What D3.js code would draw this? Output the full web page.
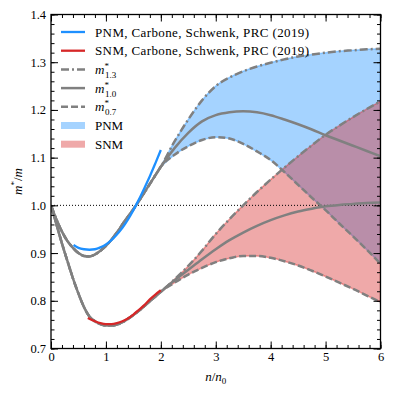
<!DOCTYPE html>
<html>
<head>
<meta charset="utf-8">
<script src="https://cdn.jsdelivr.net/npm/d3@7"></script>
<style>
  body { margin: 0; background: #fff; }
  text { font-family: "Liberation Serif", serif; }
</style>
</head>
<body>
<div id="chart"></div>
<script>
/* ── data ───────────────────────────────────────────────────── */
// low density part, the three m* curves coincide
const nLow   = [0, 0.1, 0.2, 0.3, 0.4, 0.5, 0.6, 0.7, 0.8, 0.9, 1.0,
                1.1, 1.2, 1.3, 1.4, 1.5, 1.6, 1.7, 1.8, 1.9, 2.0];
const pnmLow = [1.0, 0.970, 0.945, 0.925, 0.911, 0.900, 0.894, 0.893, 0.897, 0.905, 0.915,
                0.928, 0.943, 0.960, 0.976, 0.992, 1.009, 1.027, 1.045, 1.063, 1.081];
const snmLow = [1.0, 0.960, 0.920, 0.883, 0.847, 0.815, 0.787, 0.767, 0.757, 0.751, 0.748,
                0.748, 0.750, 0.755, 0.762, 0.770, 0.779, 0.789, 0.799, 0.809, 0.819];

// high density part
const nHigh    = [2.0, 2.25, 2.5, 2.75, 3.0, 3.25, 3.5, 3.75, 4.0,
                  4.25, 4.5, 4.75, 5.0, 5.25, 5.5, 5.75, 6.0];
const pnm13    = [1.081, 1.134, 1.180, 1.220, 1.250, 1.268, 1.281, 1.291, 1.299,
                  1.306, 1.312, 1.316, 1.320, 1.323, 1.325, 1.327, 1.328];
const pnm10    = [1.081, 1.120, 1.152, 1.176, 1.189, 1.195, 1.197, 1.195, 1.189,
                  1.180, 1.170, 1.159, 1.147, 1.136, 1.125, 1.114, 1.103];
const pnm07    = [1.081, 1.106, 1.124, 1.137, 1.143, 1.140, 1.129, 1.113, 1.095,
                  1.070, 1.043, 1.016, 0.990, 0.962, 0.935, 0.907, 0.878];
const snm13    = [0.819, 0.845, 0.873, 0.905, 0.940, 0.971, 1.000, 1.028, 1.054,
                  1.079, 1.103, 1.126, 1.148, 1.167, 1.185, 1.202, 1.218];
const snm10    = [0.819, 0.843, 0.865, 0.887, 0.908, 0.927, 0.943, 0.957, 0.969,
                  0.979, 0.987, 0.993, 0.998, 1.001, 1.003, 1.005, 1.006];
const snm07    = [0.819, 0.838, 0.855, 0.869, 0.881, 0.889, 0.894, 0.894, 0.890,
                  0.883, 0.874, 0.863, 0.851, 0.838, 0.825, 0.811, 0.797];

// Carbone & Schwenk results
const nPnmCS = [0.41, 0.5, 0.6, 0.7, 0.8, 0.9, 1.0, 1.1, 1.2, 1.3, 1.4, 1.5, 1.6, 1.7, 1.8, 1.9, 2.0];
const pnmCS  = [0.917, 0.911, 0.908, 0.907, 0.908, 0.912, 0.918, 0.927, 0.939, 0.953,
                0.970, 0.990, 1.012, 1.036, 1.061, 1.088, 1.116];
const nSnmCS = [0.67, 0.8, 0.9, 1.0, 1.1, 1.2, 1.3, 1.4, 1.5, 1.6, 1.7, 1.8, 1.9, 2.0];
const snmCS  = [0.764, 0.757, 0.753, 0.751, 0.751, 0.753, 0.757, 0.763, 0.771,
                0.781, 0.791, 0.803, 0.813, 0.822];

const xTicks = [0, 1, 2, 3, 4, 5, 6];
const yTicks = [0.7, 0.8, 0.9, 1.0, 1.1, 1.2, 1.3, 1.4];

/* ── layout ─────────────────────────────────────────────────── */
const W = 394, H = 394;
const ML = 51, MR = 13.5, MT = 14.5, MB = 45.5;
const FONT = '"Liberation Serif", serif';

const BLUE = '#1e90ff', RED = '#d62728', GREY = '#808080';

const svg = d3.select('#chart').append('svg')
  .attr('width', W).attr('height', H);

const x = d3.scaleLinear().domain([0, 6]).range([ML, W - MR]);
const y = d3.scaleLinear().domain([0.7, 1.4]).range([H - MB, MT]);

svg.append('clipPath').attr('id', 'plot-clip')
  .append('rect')
  .attr('x', ML).attr('y', MT)
  .attr('width', W - ML - MR).attr('height', H - MT - MB);

const plot = svg.append('g').attr('clip-path', 'url(#plot-clip)');

const zip = (xs, ys) => xs.map((v, i) => [v, ys[i]]);
const line = d3.line().x(d => x(d[0])).y(d => y(d[1])).curve(d3.curveMonotoneX);

// ── bands ───────────────────────────────────────────────────
function band(lo, hi, color) {
  const area = d3.area()
    .x((_, i) => x(nHigh[i]))
    .y0((_, i) => y(lo[i]))
    .y1((_, i) => y(hi[i]))
    .curve(d3.curveMonotoneX);
  plot.append('path')
    .attr('d', area(nHigh))
    .attr('fill', color).attr('fill-opacity', 0.4)
    .attr('stroke', color).attr('stroke-opacity', 0.4).attr('stroke-width', 1.5);
}
band(pnm07, pnm13, BLUE);
band(snm07, snm13, RED);

// reference line at 1
plot.append('line')
  .attr('x1', x(0)).attr('x2', x(6))
  .attr('y1', y(1)).attr('y2', y(1))
  .attr('stroke', '#000').attr('stroke-width', 1)
  .attr('stroke-dasharray', '1,2');

// ── m* curves ───────────────────────────────────────────────
const STYLES = {
  m13: '8,3,2,3',
  m10: null,
  m07: '7,3',
};
const curves = [
  [pnmLow, pnm13, 'm13'], [pnmLow, pnm10, 'm10'], [pnmLow, pnm07, 'm07'],
  [snmLow, snm13, 'm13'], [snmLow, snm10, 'm10'], [snmLow, snm07, 'm07'],
];
for (const [low, high, key] of curves) {
  const pts = zip(nLow, low).concat(zip(nHigh, high).slice(1));
  plot.append('path')
    .attr('d', line(pts))
    .attr('fill', 'none')
    .attr('stroke', GREY).attr('stroke-width', 2.5)
    .attr('stroke-dasharray', STYLES[key]);
}

plot.append('path').attr('d', line(zip(nPnmCS, pnmCS)))
  .attr('fill', 'none').attr('stroke', BLUE).attr('stroke-width', 2.3);
plot.append('path').attr('d', line(zip(nSnmCS, snmCS)))
  .attr('fill', 'none').attr('stroke', RED).attr('stroke-width', 2.3);

// ── axes ────────────────────────────────────────────────────
const xMinor = d3.range(0, 6.001, 0.2).map(v => +v.toFixed(1));
const yMinor = d3.range(0.7, 1.4001, 0.02).map(v => +v.toFixed(2));

function styleAxis(g) {
  g.attr('font-family', FONT);
  g.select('.domain').remove();
  g.selectAll('.tick line').attr('stroke', '#000').attr('stroke-width', 1);
  g.selectAll('.tick text').attr('fill', '#000').attr('font-size', 12.5)
    .attr('font-family', FONT);
}

const axes = [
  [() => d3.axisBottom(x), `translate(0,${H - MB})`, xTicks, xMinor, d3.format('d')],
  [() => d3.axisTop(x),    `translate(0,${MT})`,     xTicks, xMinor, null],
  [() => d3.axisLeft(y),   `translate(${ML},0)`,     yTicks, yMinor, d3.format('.1f')],
  [() => d3.axisRight(y),  `translate(${W - MR},0)`, yTicks, yMinor, null],
];
for (const [mk, tr, major, minor, fmt] of axes) {
  svg.append('g').attr('transform', tr)
    .call(mk().tickValues(minor).tickSize(-3.5).tickFormat(''))
    .call(styleAxis);
  svg.append('g').attr('transform', tr)
    .call(mk().tickValues(major).tickSize(-7).tickPadding(major === yTicks ? 5 : 4)
      .tickFormat(fmt || (() => '')))
    .call(styleAxis);
}

svg.append('rect')
  .attr('x', ML).attr('y', MT)
  .attr('width', W - ML - MR).attr('height', H - MT - MB)
  .attr('fill', 'none').attr('stroke', '#000').attr('stroke-width', 1.3);

// axis titles
const xt = svg.append('text')
  .attr('x', (ML + W - MR) / 2).attr('y', 381)
  .attr('text-anchor', 'middle').attr('font-size', 13);
xt.append('tspan').attr('font-style', 'italic').text('n');
xt.append('tspan').text('/');
xt.append('tspan').attr('font-style', 'italic').text('n');
xt.append('tspan').attr('font-size', 9).attr('dy', 3).text('0');

const yt = svg.append('text')
  .attr('transform', `translate(22,${(MT + H - MB) / 2}) rotate(-90)`)
  .attr('text-anchor', 'middle').attr('font-size', 13);
yt.append('tspan').attr('font-style', 'italic').text('m');
yt.append('tspan').attr('font-size', 9).attr('dy', -5).text('*');
yt.append('tspan').attr('dy', 5).text('/');
yt.append('tspan').attr('font-style', 'italic').text('m');

// ── legend ──────────────────────────────────────────────────
const legendItems = [
  { kind: 'line', color: BLUE, dash: null, label: 'PNM, Carbone, Schwenk, PRC (2019)', len: 214 },
  { kind: 'line', color: RED,  dash: null, label: 'SNM, Carbone, Schwenk, PRC (2019)', len: 214 },
  { kind: 'line', color: GREY, dash: STYLES.m13, sub: '1.3' },
  { kind: 'line', color: GREY, dash: STYLES.m10, sub: '1.0' },
  { kind: 'line', color: GREY, dash: STYLES.m07, sub: '0.7' },
  { kind: 'patch', color: BLUE, label: 'PNM' },
  { kind: 'patch', color: RED,  label: 'SNM' },
];
const LX = 61, LW = 24, LY = 32, LDY = 18.7;
legendItems.forEach((d, i) => {
  const cy = LY + i * LDY;
  if (d.kind === 'line') {
    svg.append('line')
      .attr('x1', LX).attr('x2', LX + LW).attr('y1', cy).attr('y2', cy)
      .attr('stroke', d.color).attr('stroke-width', d.color === GREY ? 2.5 : 2.3)
      .attr('stroke-dasharray', d.dash);
  } else {
    svg.append('rect')
      .attr('x', LX).attr('y', cy - 3.5).attr('width', LW).attr('height', 7)
      .attr('fill', d.color).attr('fill-opacity', 0.4);
  }
  const t = svg.append('text').attr('x', LX + LW + 10).attr('y', cy + 4.5)
    .attr('font-size', 13);
  if (d.sub) {
    t.append('tspan').attr('font-style', 'italic').text('m');
    t.append('tspan').attr('font-size', 9).attr('dy', -5).text('*');
    t.append('tspan').attr('font-size', 9).attr('dx', -4).attr('dy', 9).text(d.sub);
  } else {
    t.text(d.label);
    if (d.len) t.attr('textLength', d.len).attr('lengthAdjust', 'spacing');
  }
});
</script>
</body>
</html>
